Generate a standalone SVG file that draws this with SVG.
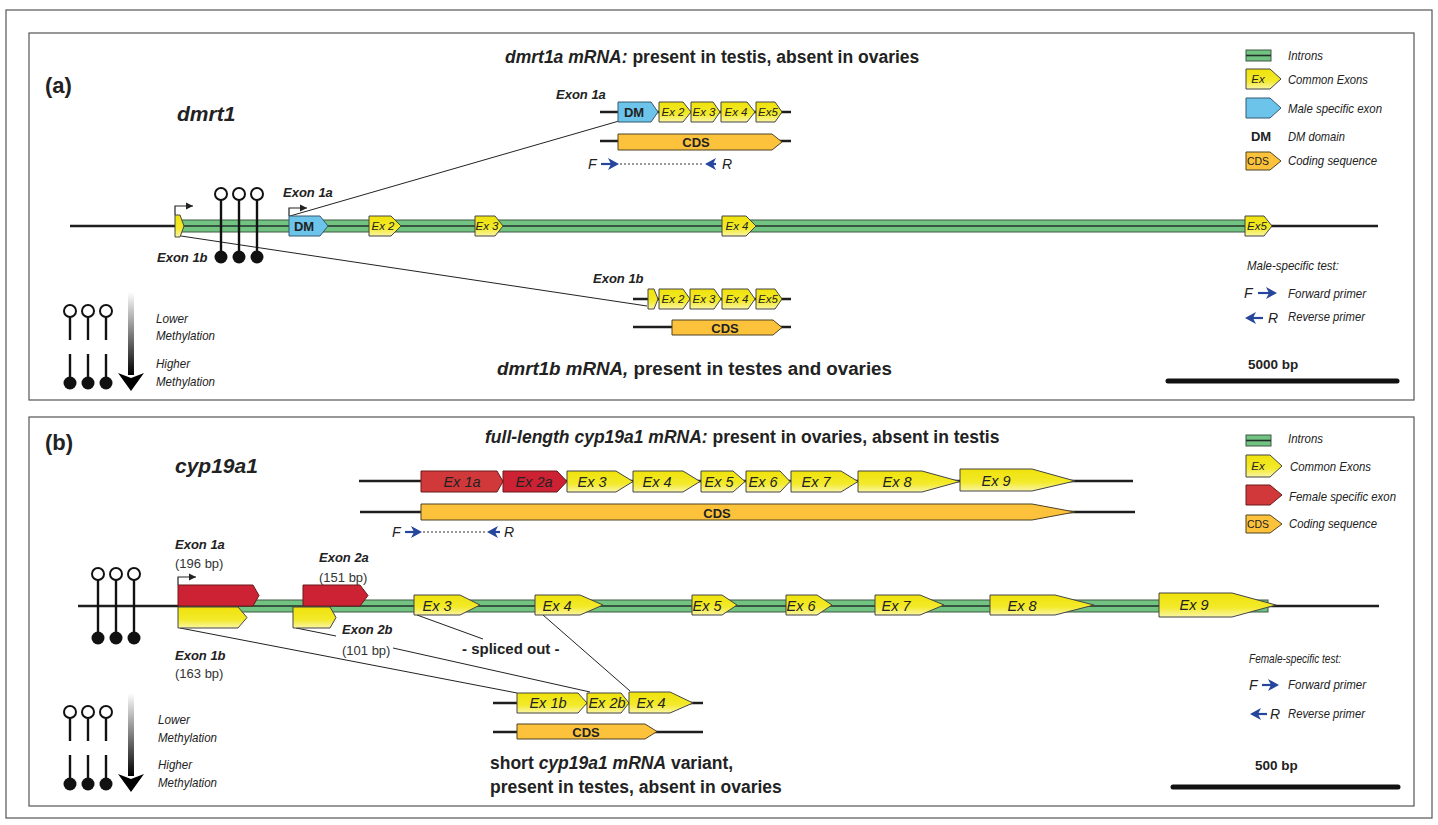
<svg xmlns="http://www.w3.org/2000/svg" width="1438" height="825" viewBox="0 0 1438 825">
<defs>
<linearGradient id="gy" x1="0" y1="0" x2="0" y2="1">
<stop offset="0" stop-color="#efe20c"/><stop offset="0.6" stop-color="#f3ea2a"/><stop offset="1" stop-color="#faf5a6"/>
</linearGradient>
<linearGradient id="gm" x1="0" y1="0" x2="0" y2="1">
<stop offset="0" stop-color="#ffffff"/><stop offset="1" stop-color="#000000"/>
</linearGradient>
<marker id="pa" viewBox="0 0 8 8" refX="7" refY="4" markerWidth="8" markerHeight="8" markerUnits="userSpaceOnUse" orient="auto">
<path d="M0,0.5 L7,4 L0,7.5 Z" fill="#222"/>
</marker>
<style>
.frame{fill:none;stroke:#555;stroke-width:1.2}
.dna{stroke:#1e1e1e;stroke-width:2.4}
.intron{fill:#72c282;stroke:#3a5a42;stroke-width:1}
.icl{stroke:#22302a;stroke-width:1.6}
.ex{fill:url(#gy);stroke:#444;stroke-width:1;stroke-linejoin:round}
.dm{fill:#6cc4ea;stroke:#35586e;stroke-width:1;stroke-linejoin:round}
.cds{fill:#fcc23c;stroke:#4e4222;stroke-width:1;stroke-linejoin:round}
.red{fill:#cc2233;stroke:#6a1a1a;stroke-width:1;stroke-linejoin:round}
.red2{fill:#d0383a;stroke:#6a1a1a;stroke-width:1;stroke-linejoin:round}
.conn{stroke:#222;stroke-width:1;fill:none}
.prom{stroke:#222;stroke-width:1.2;fill:none}
.stem{stroke:#111;stroke-width:2.4}
.oc{fill:#fff;stroke:#111;stroke-width:2}
.fc{fill:#111}
.pr{fill:#26459c}
.prl{stroke:#26459c;stroke-width:2.2}
.dot{stroke:#333;stroke-width:1;stroke-dasharray:2,2}
text{font-family:"Liberation Sans",Arial,sans-serif;fill:#222}
.lbl{font-weight:bold;font-style:italic;font-size:13px}
.bp{font-size:13px;fill:#333}
.exl{font-style:italic;font-size:11.5px;text-anchor:middle}
.exb{font-style:italic;font-size:14.5px;text-anchor:middle}
.cdsl{font-weight:bold;font-size:13px;text-anchor:middle}
.title{font-weight:bold;font-size:17.5px}
.bi{font-style:italic}
.leg{font-style:italic;font-size:13px}
.pl{font-style:italic;font-size:14px}
.head{font-weight:bold;font-size:22px}
.gene{font-weight:bold;font-style:italic;font-size:21px}
.scale{font-weight:bold;font-size:13.5px}
</style>
</defs>
<rect width="1438" height="825" fill="#fff"/>
<rect class="frame" x="6" y="10" width="1426" height="808"/>
<rect class="frame" x="29" y="33" width="1385" height="367"/>
<rect class="frame" x="29" y="417" width="1385" height="389"/>

<!-- ===== Panel (a) ===== -->
<text class="head" x="45" y="93">(a)</text>
<text class="gene" x="177" y="121">dmrt1</text>
<text class="title" x="505" y="63"><tspan class="bi">dmrt1a mRNA:</tspan> present in testis, absent in ovaries</text>
<text class="title" x="497" y="375" textLength="395" lengthAdjust="spacingAndGlyphs"><tspan class="bi">dmrt1b mRNA,</tspan> present in testes and ovaries</text>

<g id="connectors">
<line class="conn" x1="290" y1="216" x2="619" y2="121"/>
<line class="conn" x1="181" y1="236" x2="647" y2="306"/>
<line class="conn" x1="180" y1="628" x2="517" y2="693"/>
<line class="conn" x1="296" y1="628" x2="336" y2="636"/>
<line class="conn" x1="393" y1="648" x2="590" y2="692"/>
<line class="conn" x1="417" y1="615" x2="483" y2="639"/>
<line class="conn" x1="543" y1="615" x2="630" y2="691"/>
</g>

<g id="gene-dmrt1">
<line class="dna" x1="70" y1="226" x2="178" y2="226"/>
<line class="dna" x1="1266" y1="226" x2="1378" y2="226"/>
<rect class="intron" x="180" y="220" width="1084" height="12"/>
<line class="icl" x1="180" y1="226" x2="1264" y2="226"/>
<path class="ex" d="M175,215 H180 L184,226 L180,237 H175 Z"/>
<path class="dm" d="M289,216 H320 L328,226 L320,236 H289 Z"/>
<text class="cdsl" x="304" y="231">DM</text>
<path class="ex" d="M369,216 H391 L401,226 L391,236 H369 Z"/>
<text class="exl" x="383" y="230">Ex 2</text>
<path class="ex" d="M475,216 H495 L503,226 L495,236 H475 Z"/>
<text class="exl" x="487" y="230">Ex 3</text>
<path class="ex" d="M722,216 H746 L756,226 L746,236 H722 Z"/>
<text class="exl" x="737" y="230">Ex 4</text>
<path class="ex" d="M1245,216 H1264 L1272,226 L1264,236 H1245 Z"/>
<text class="exl" x="1257" y="230">Ex5</text>
<path class="prom" d="M175,215 V206 H193" marker-end="url(#pa)"/>
<path class="prom" d="M289,216 V208 H307" marker-end="url(#pa)"/>
<text class="lbl" x="283" y="197">Exon 1a</text>
<text class="lbl" x="157" y="262">Exon 1b</text>
</g>

<g id="meth-a">
<line class="stem" x1="221" y1="200" x2="221" y2="252"/>
<line class="stem" x1="239" y1="200" x2="239" y2="252"/>
<line class="stem" x1="257" y1="200" x2="257" y2="252"/>
<circle class="oc" cx="221" cy="194" r="6"/><circle class="oc" cx="239" cy="194" r="6"/><circle class="oc" cx="257" cy="194" r="6"/>
<circle class="fc" cx="221" cy="257" r="6.5"/><circle class="fc" cx="239" cy="257" r="6.5"/><circle class="fc" cx="257" cy="257" r="6.5"/>
</g>

<g id="mrna-1a">
<line class="dna" x1="600" y1="112" x2="791" y2="112"/>
<path class="dm" d="M618,102 H651 L658,112 L651,122 H618 Z"/>
<text class="cdsl" x="634" y="117">DM</text>
<path class="ex" d="M659,102 H683 L691,112 L683,122 H659 Z"/>
<text class="exl" x="673" y="116">Ex 2</text>
<path class="ex" d="M691,102 H713 L720,112 L713,122 H691 Z"/>
<text class="exl" x="704" y="116">Ex 3</text>
<path class="ex" d="M721,102 H747 L755,112 L747,122 H721 Z"/>
<text class="exl" x="736" y="116">Ex 4</text>
<path class="ex" d="M756,102 H775 L782,112 L775,122 H756 Z"/>
<text class="exl" x="768" y="116">Ex5</text>
<line class="dna" x1="600" y1="141" x2="791" y2="141"/>
<path class="cds" d="M618,134 H772 L782,142 L772,150 H618 Z"/>
<text class="cdsl" x="696" y="147">CDS</text>
<text class="lbl" x="556" y="99">Exon 1a</text>
<text class="pl" x="588" y="169">F</text>
<line class="prl" x1="601" y1="164" x2="613" y2="164"/>
<polygon class="pr" points="619,164 608,158 611,164 608,170"/>
<line class="dot" x1="620" y1="164" x2="704" y2="164"/>
<polygon class="pr" points="705,164 716,158 713,164 716,170"/>
<line class="prl" x1="711" y1="164" x2="716" y2="164"/>
<text class="pl" x="722" y="169">R</text>
</g>

<g id="mrna-1b">
<line class="dna" x1="633" y1="299" x2="791" y2="299"/>
<path class="ex" d="M648,289 H654 L658,299 L654,309 H648 Z"/>
<path class="ex" d="M659,289 H683 L690,299 L683,309 H659 Z"/>
<text class="exl" x="673" y="303">Ex 2</text>
<path class="ex" d="M690,289 H714 L721,299 L714,309 H690 Z"/>
<text class="exl" x="704" y="303">Ex 3</text>
<path class="ex" d="M722,289 H748 L755,299 L748,309 H722 Z"/>
<text class="exl" x="737" y="303">Ex 4</text>
<path class="ex" d="M756,289 H775 L782,299 L775,309 H756 Z"/>
<text class="exl" x="768" y="303">Ex5</text>
<line class="dna" x1="633" y1="327" x2="791" y2="327"/>
<path class="cds" d="M672,320 H773 L782,327.5 L773,335 H672 Z"/>
<text class="cdsl" x="725" y="333">CDS</text>
<text class="lbl" x="593" y="283">Exon 1b</text>
</g>

<g id="legend-a">
<rect class="intron" x="1246" y="50" width="25" height="11"/>
<line class="icl" x1="1246" y1="55.5" x2="1271" y2="55.5"/>
<text class="leg" x="1288" y="60" textLength="35" lengthAdjust="spacingAndGlyphs">Introns</text>
<path class="ex" d="M1246,69 H1270 L1281,79 L1270,89 H1246 Z"/>
<text class="exl" x="1258" y="83">Ex</text>
<text class="leg" x="1288" y="84" textLength="80" lengthAdjust="spacingAndGlyphs">Common Exons</text>
<path class="dm" d="M1246,98 H1270 L1281,108 L1270,118 H1246 Z"/>
<text class="leg" x="1288" y="113" textLength="94" lengthAdjust="spacingAndGlyphs">Male specific exon</text>
<text class="cdsl" x="1261" y="141">DM</text>
<text class="leg" x="1288" y="141" textLength="57" lengthAdjust="spacingAndGlyphs">DM domain</text>
<path class="cds" d="M1246,152 H1270 L1281,161 L1270,170 H1246 Z"/>
<text x="1258" y="165" font-size="10.5" text-anchor="middle">CDS</text>
<text class="leg" x="1288" y="165" textLength="89" lengthAdjust="spacingAndGlyphs">Coding sequence</text>
<text class="leg" x="1247" y="270" textLength="92" lengthAdjust="spacingAndGlyphs">Male-specific test:</text>
<text class="pl" x="1244" y="298">F</text>
<line class="prl" x1="1258" y1="293" x2="1271" y2="293"/>
<polygon class="pr" points="1277,293 1266,287 1269,293 1266,299"/>
<text class="leg" x="1288" y="298" textLength="78" lengthAdjust="spacingAndGlyphs">Forward primer</text>
<polygon class="pr" points="1245,318 1256,312 1253,318 1256,324"/>
<line class="prl" x1="1251" y1="318" x2="1263" y2="318"/>
<text class="pl" x="1268" y="323">R</text>
<text class="leg" x="1288" y="321" textLength="77" lengthAdjust="spacingAndGlyphs">Reverse primer</text>
<text class="scale" x="1248" y="369">5000 bp</text>
<line x1="1168" y1="381" x2="1397" y2="381" stroke="#111" stroke-width="5" stroke-linecap="round"/>
</g>

<g id="meth-legend-a">
<circle class="oc" cx="70" cy="311" r="6"/><circle class="oc" cx="88" cy="311" r="6"/><circle class="oc" cx="106" cy="311" r="6"/>
<line class="stem" x1="70" y1="317" x2="70" y2="340"/><line class="stem" x1="88" y1="317" x2="88" y2="340"/><line class="stem" x1="106" y1="317" x2="106" y2="340"/>
<line class="stem" x1="70" y1="354" x2="70" y2="378"/><line class="stem" x1="88" y1="354" x2="88" y2="378"/><line class="stem" x1="106" y1="354" x2="106" y2="378"/>
<circle class="fc" cx="70" cy="383" r="6.5"/><circle class="fc" cx="88" cy="383" r="6.5"/><circle class="fc" cx="106" cy="383" r="6.5"/>
<rect x="128" y="292" width="6" height="83" fill="url(#gm)"/>
<polygon points="118,373 131,378 144,373 131,391" fill="#000"/>
<text class="leg" x="156" y="323" textLength="32" lengthAdjust="spacingAndGlyphs">Lower</text>
<text class="leg" x="156" y="340" textLength="59" lengthAdjust="spacingAndGlyphs">Methylation</text>
<text class="leg" x="156" y="368" textLength="34" lengthAdjust="spacingAndGlyphs">Higher</text>
<text class="leg" x="156" y="386" textLength="59" lengthAdjust="spacingAndGlyphs">Methylation</text>
</g>

<!-- ===== Panel (b) ===== -->
<text class="head" x="45" y="450">(b)</text>
<text class="gene" x="175" y="473">cyp19a1</text>
<text class="title" x="485" y="443"><tspan class="bi">full-length cyp19a1 mRNA:</tspan> present in ovaries, absent in testis</text>
<text class="title" x="490" y="769">short <tspan class="bi">cyp19a1 mRNA</tspan> variant,</text>
<text class="title" x="490" y="793">present in testes, absent in ovaries</text>

<g id="mrna-full">
<line class="dna" x1="359" y1="481" x2="1133" y2="481"/>
<path class="red2" d="M421,471 H497 L503,481.5 L497,492 H421 Z"/>
<text class="exb" x="462" y="487">Ex 1a</text>
<path class="red" d="M503,471 H557 L567,481.5 L557,492 H503 Z"/>
<text class="exb" x="534" y="487">Ex 2a</text>
<path class="ex" d="M567,471 H616 L633,481.5 L616,492 H567 Z"/>
<text class="exb" x="592" y="487">Ex 3</text>
<path class="ex" d="M633,471 H683 L700,481.5 L683,492 H633 Z"/>
<text class="exb" x="657" y="487">Ex 4</text>
<path class="ex" d="M701,471 H733 L745,481.5 L733,492 H701 Z"/>
<text class="exb" x="719" y="487">Ex 5</text>
<path class="ex" d="M746,471 H780 L790,481.5 L780,492 H746 Z"/>
<text class="exb" x="763" y="487">Ex 6</text>
<path class="ex" d="M791,471 H841 L858,481.5 L841,492 H791 Z"/>
<text class="exb" x="816" y="487">Ex 7</text>
<path class="ex" d="M858,471 H922 L960,481.5 L922,492 H858 Z"/>
<text class="exb" x="897" y="487">Ex 8</text>
<path class="ex" d="M960,469 H1032 L1075,481 L1032,491 H960 Z"/>
<text class="exb" x="996" y="486">Ex 9</text>
<line class="dna" x1="360" y1="512" x2="1135" y2="512"/>
<path class="cds" d="M421,504 H1032 L1075,512 L1032,520 H421 Z"/>
<text class="cdsl" x="717" y="518">CDS</text>
<text class="pl" x="392" y="537">F</text>
<line class="prl" x1="405" y1="532" x2="416" y2="532"/>
<polygon class="pr" points="422,532 411,526 414,532 411,538"/>
<line class="dot" x1="423" y1="532" x2="486" y2="532"/>
<polygon class="pr" points="487,532 498,526 495,532 498,538"/>
<line class="prl" x1="493" y1="532" x2="500" y2="532"/>
<text class="pl" x="504" y="537">R</text>
</g>

<g id="gene-cyp19a1">
<line class="dna" x1="78" y1="606" x2="180" y2="606"/>
<line class="dna" x1="1268" y1="606" x2="1379" y2="606"/>
<rect class="intron" x="180" y="600" width="1088" height="12"/>
<line class="icl" x1="180" y1="606" x2="1268" y2="606"/>
<path class="red" d="M178,585 H253 L259,595.5 L253,606 H178 Z"/>
<path class="ex" d="M178,607 H238 L247,617.5 L238,628 H178 Z"/>
<path class="red" d="M303,585 H360 L368,595.5 L360,606 H303 Z"/>
<path class="ex" d="M293,607 H330 L336,617.5 L330,628 H293 Z"/>
<path class="ex" d="M414,595 H460 L480,605 L460,615 H414 Z"/>
<text class="exb" x="437" y="611">Ex 3</text>
<path class="ex" d="M535,595 H580 L603,605 L580,615 H535 Z"/>
<text class="exb" x="557" y="611">Ex 4</text>
<path class="ex" d="M692,595 H722 L737,605 L722,615 H692 Z"/>
<text class="exb" x="707" y="611">Ex 5</text>
<path class="ex" d="M786,595 H817 L832,605 L817,615 H786 Z"/>
<text class="exb" x="801" y="611">Ex 6</text>
<path class="ex" d="M875,595 H920 L944,605 L920,615 H875 Z"/>
<text class="exb" x="896" y="611">Ex 7</text>
<path class="ex" d="M990,595 H1055 L1094,605 L1055,615 H990 Z"/>
<text class="exb" x="1022" y="611">Ex 8</text>
<path class="ex" d="M1159,593 H1232 L1276,605 L1232,617 H1159 Z"/>
<text class="exb" x="1194" y="610">Ex 9</text>
<path class="prom" d="M178,585 V577 H196" marker-end="url(#pa)"/>
<text class="lbl" x="175" y="549">Exon 1a</text>
<text class="bp" x="175" y="568">(196 bp)</text>
<text class="lbl" x="319" y="562">Exon 2a</text>
<text class="bp" x="319" y="582">(151 bp)</text>
<text class="lbl" x="342" y="634">Exon 2b</text>
<text class="bp" x="342" y="655">(101 bp)</text>
<text class="lbl" x="175" y="660">Exon 1b</text>
<text class="bp" x="175" y="678">(163 bp)</text>
<text x="462" y="654" font-weight="bold" font-size="15">- spliced out -</text>
</g>

<g id="meth-b">
<line class="stem" x1="98" y1="580" x2="98" y2="633"/>
<line class="stem" x1="116" y1="580" x2="116" y2="633"/>
<line class="stem" x1="134" y1="580" x2="134" y2="633"/>
<circle class="oc" cx="98" cy="574" r="6"/><circle class="oc" cx="116" cy="574" r="6"/><circle class="oc" cx="134" cy="574" r="6"/>
<circle class="fc" cx="98" cy="638" r="6.5"/><circle class="fc" cx="116" cy="638" r="6.5"/><circle class="fc" cx="134" cy="638" r="6.5"/>
</g>

<g id="mrna-short">
<line class="dna" x1="493" y1="703" x2="703" y2="703"/>
<path class="ex" d="M517,693 H578 L587,703 L578,713 H517 Z"/>
<text class="exb" x="548" y="708">Ex 1b</text>
<path class="ex" d="M587,693 H621 L629,703 L621,713 H587 Z"/>
<text class="exb" x="607" y="708">Ex 2b</text>
<path class="ex" d="M629,692 H670 L693,703 L670,713 H629 Z"/>
<text class="exb" x="651" y="708">Ex 4</text>
<line class="dna" x1="493" y1="732" x2="703" y2="732"/>
<path class="cds" d="M517,724 H645 L657,731.5 L645,739 H517 Z"/>
<text class="cdsl" x="586" y="737">CDS</text>
</g>

<g id="legend-b">
<rect class="intron" x="1246" y="435" width="25" height="11"/>
<line class="icl" x1="1246" y1="440.5" x2="1271" y2="440.5"/>
<text class="leg" x="1288" y="443" textLength="35" lengthAdjust="spacingAndGlyphs">Introns</text>
<path class="ex" d="M1246,455 H1270 L1282,466 L1270,477 H1246 Z"/>
<text class="exl" x="1258" y="470">Ex</text>
<text class="leg" x="1290" y="471" textLength="81" lengthAdjust="spacingAndGlyphs">Common Exons</text>
<path class="red2" d="M1246,485 H1270 L1282,495 L1270,505 H1246 Z"/>
<text class="leg" x="1289" y="501" textLength="107" lengthAdjust="spacingAndGlyphs">Female specific exon</text>
<path class="cds" d="M1246,515 H1270 L1282,524 L1270,533 H1246 Z"/>
<text x="1258" y="528" font-size="10.5" text-anchor="middle">CDS</text>
<text class="leg" x="1289" y="528" textLength="88" lengthAdjust="spacingAndGlyphs">Coding sequence</text>
<text class="leg" x="1249" y="663" textLength="92" lengthAdjust="spacingAndGlyphs">Female-specific test:</text>
<text class="pl" x="1249" y="690">F</text>
<line class="prl" x1="1262" y1="685" x2="1273" y2="685"/>
<polygon class="pr" points="1279,685 1268,679 1271,685 1268,691"/>
<text class="leg" x="1288" y="689" textLength="78" lengthAdjust="spacingAndGlyphs">Forward primer</text>
<polygon class="pr" points="1250,714 1261,708 1258,714 1261,720"/>
<line class="prl" x1="1256" y1="714" x2="1267" y2="714"/>
<text class="pl" x="1270" y="719">R</text>
<text class="leg" x="1288" y="718" textLength="77" lengthAdjust="spacingAndGlyphs">Reverse primer</text>
<text class="scale" x="1255" y="770">500 bp</text>
<line x1="1173" y1="787" x2="1398" y2="787" stroke="#111" stroke-width="5" stroke-linecap="round"/>
</g>

<g id="meth-legend-b">
<circle class="oc" cx="70" cy="712" r="6"/><circle class="oc" cx="88" cy="712" r="6"/><circle class="oc" cx="106" cy="712" r="6"/>
<line class="stem" x1="70" y1="718" x2="70" y2="741"/><line class="stem" x1="88" y1="718" x2="88" y2="741"/><line class="stem" x1="106" y1="718" x2="106" y2="741"/>
<line class="stem" x1="70" y1="755" x2="70" y2="779"/><line class="stem" x1="88" y1="755" x2="88" y2="779"/><line class="stem" x1="106" y1="755" x2="106" y2="779"/>
<circle class="fc" cx="70" cy="784" r="6.5"/><circle class="fc" cx="88" cy="784" r="6.5"/><circle class="fc" cx="106" cy="784" r="6.5"/>
<rect x="128" y="693" width="6" height="83" fill="url(#gm)"/>
<polygon points="118,774 131,779 144,774 131,792" fill="#000"/>
<text class="leg" x="158" y="724" textLength="32" lengthAdjust="spacingAndGlyphs">Lower</text>
<text class="leg" x="158" y="742" textLength="59" lengthAdjust="spacingAndGlyphs">Methylation</text>
<text class="leg" x="158" y="769" textLength="34" lengthAdjust="spacingAndGlyphs">Higher</text>
<text class="leg" x="158" y="787" textLength="59" lengthAdjust="spacingAndGlyphs">Methylation</text>
</g>
</svg>
